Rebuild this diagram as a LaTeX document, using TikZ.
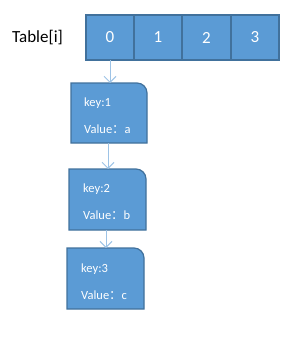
\documentclass[tikz,border=0pt]{standalone}
\usepackage{fontspec}
\setmainfont{Carlito}
\newfontfamily\cjk{Noto Sans CJK SC}
\definecolor{cellfill}{HTML}{5B9BD5}
\definecolor{celldraw}{HTML}{41719C}
\definecolor{arrowcol}{HTML}{9DC3E6}
\usetikzlibrary{arrows.meta}
\begin{document}
\begin{tikzpicture}[x=1pt,y=-1pt,
  cell/.style={draw=celldraw,fill=cellfill,line width=1.2pt,minimum width=48pt,minimum height=45pt,inner sep=0pt,text=white,font=\fontsize{17}{19}\selectfont},
  rec/.style={draw=celldraw,fill=cellfill,line width=1.2pt},
  lbl/.style={text=white,font=\fontsize{12.5}{14}\selectfont,anchor=west,inner sep=0pt},
  link/.style={draw=arrowcol,line width=1pt,-{Straight Barb[length=6pt,width=12pt]}}]
\useasboundingbox (0,0) rectangle (293,337);
\node[font=\fontsize{17}{19}\selectfont,anchor=west,inner sep=0pt] (tl) at (12,37.5) {Table[i]};
\node[cell] (c0) at (110,37.5) {0};
\node[cell] (c1) at (158,37.5) {1};
\node[cell] (c2) at (206.5,37.5) {2};
\node[cell] (c3) at (255,37.5) {3};
% records
\draw[rec] (71,83) -- (137,83) arc[start angle=-90,end angle=0,radius=10] -- (147,143) -- (71,143) -- cycle;
\coordinate (r1top) at (109,83);
\coordinate (r1bot) at (108,143);
\node[lbl] (k1) at (84,103) {key:1};
\node[lbl] (v1) at (84,129) {Value{\cjk ：}a};
\draw[rec] (69,169) -- (136,169) arc[start angle=-90,end angle=0,radius=10] -- (146,230) -- (69,230) -- cycle;
\coordinate (r2top) at (108,169);
\coordinate (r2bot) at (106,230);
\node[lbl] (k2) at (83,189) {key:2};
\node[lbl] (v2) at (83,215) {Value{\cjk ：}b};
\draw[rec] (67,248) -- (134,248) arc[start angle=-90,end angle=0,radius=10] -- (144,309) -- (67,309) -- cycle;
\coordinate (r3top) at (106,248);
\node[lbl] (k3) at (81,269) {key:3};
\node[lbl] (v3) at (81,295) {Value{\cjk ：}c};
\coordinate (c0bot) at (110,60.5);
\draw[link] (c0bot) -- (c0bot |- r1top);
\draw[link] (r1bot) -- (r1bot |- r2top);
\draw[link] (r2bot) -- (r2bot |- r3top);
\end{tikzpicture}
\end{document}
